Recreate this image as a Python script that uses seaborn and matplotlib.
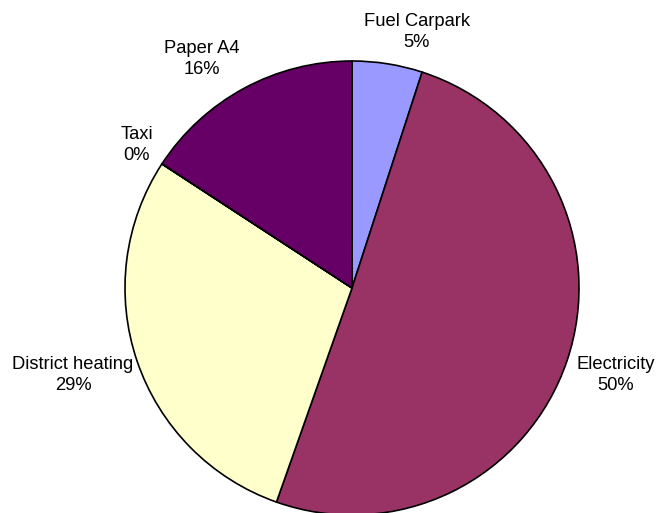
import matplotlib
matplotlib.use("Agg")
import matplotlib.pyplot as plt
import seaborn as sns

categories = ["Fuel Carpark", "Electricity", "District heating", "Taxi", "Paper A4"]
values = [5.0, 50.4, 28.8, 0.02, 15.78]
pct_labels = ["5%", "50%", "29%", "0%", "16%"]
colors = ["#9999FF", "#993366", "#FFFFCC", "#CCFFFF", "#660066"]

# label block centres in pixel coordinates (from top-left)
label_px = [(417, 32), (616, 375), (73, 375), (137, 145), (202, 59)]

sns.set_theme(style="white")
plt.rcParams["font.family"] = ["Liberation Sans", "DejaVu Sans"]

W, H = 665, 513
cx, cy, R = 352, 288, 227
fig = plt.figure(figsize=(W / 100, H / 100), dpi=100)
ax = fig.add_axes([0, 0, 1, 1])
wedges, _ = ax.pie(values, colors=colors, startangle=90, counterclock=False,
                   wedgeprops=dict(edgecolor="black", linewidth=1.2))
ax.set_xlim((0 - cx) / R, (W - cx) / R)
ax.set_ylim((cy - H) / R, cy / R)
ax.set_aspect("auto")
ax.axis("off")

for cat, pct, (px, py) in zip(categories, pct_labels, label_px):
    ax.text((px - cx) / R, (cy - py) / R, f"{cat}\n{pct}", ha="center", va="center",
            fontsize=13.2, color="black", linespacing=1.3)

fig.savefig("out.png", dpi=100, facecolor="white")
